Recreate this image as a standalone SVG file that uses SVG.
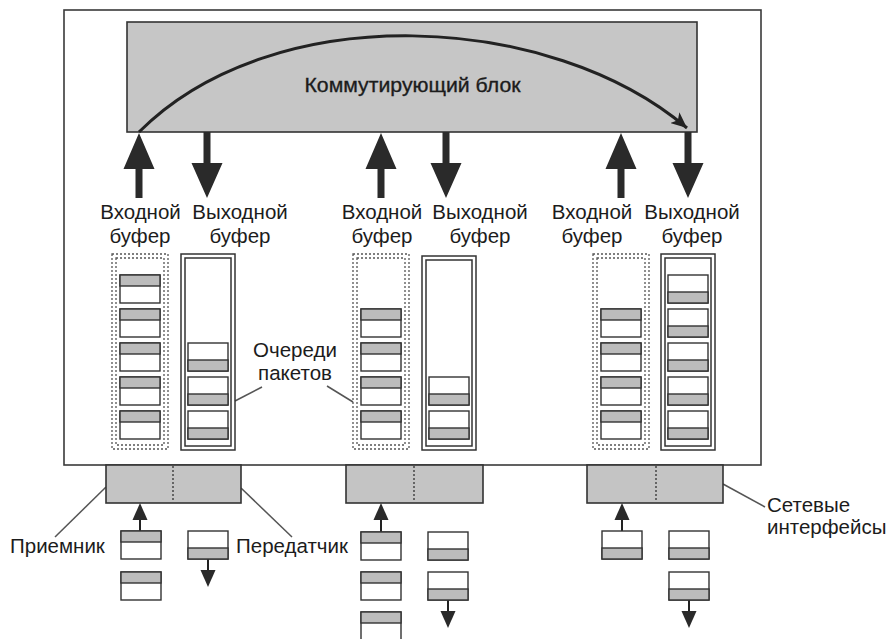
<svg xmlns="http://www.w3.org/2000/svg" xmlns:xlink="http://www.w3.org/1999/xlink" width="891" height="639" viewBox="0 0 891 639">
<style>
.frame{fill:#fff;stroke:#3a3a3a;stroke-width:1.6}
.block{fill:#c6c6c6;stroke:#333;stroke-width:1.6}
.iface{fill:#c4c4c4;stroke:#333;stroke-width:1.6}
.div{stroke:#333;stroke-width:1.3;stroke-dasharray:2 2}
.dot{fill:none;stroke:#555;stroke-width:1.3;stroke-dasharray:2 2}
.sol{fill:none;stroke:#333;stroke-width:1.5}
.pw{fill:#fff;stroke:#333;stroke-width:1.4}
.pg{fill:#bcbcbc;stroke:#333;stroke-width:1.4}
.arr{fill:#2a2a2a}
.lead{fill:none;stroke:#555;stroke-width:1.5}
.curve{fill:none;stroke:#222;stroke-width:3}
.sm{stroke:#222;stroke-width:2}
text{font-family:"Liberation Sans",Arial,sans-serif;font-size:20.5px;fill:#1c1c1c}
.c{text-anchor:middle}
.title{font-size:21px;stroke:#1c1c1c;stroke-width:0.35}
</style>
<defs>
<g id="pin"><rect class="pw" x="0" y="0" width="40" height="28"/><rect class="pg" x="0" y="0" width="40" height="11"/></g>
<g id="pout"><rect class="pw" x="0" y="0" width="40" height="28"/><rect class="pg" x="0" y="17" width="40" height="11"/></g>
<marker id="ah" markerUnits="userSpaceOnUse" markerWidth="18" markerHeight="14" refX="16" refY="7" orient="auto" viewBox="0 0 18 14"><path d="M0,0 L16,7 L0,14 L4,7 z" fill="#222"/></marker>
</defs>

<g id="router">
<rect class="frame" x="64" y="10" width="697" height="455"/>
</g>

<g id="switch">
<rect class="block" x="127" y="22" width="570" height="110"/>
<text class="c title" x="412.5" y="92" textLength="216" lengthAdjust="spacingAndGlyphs">Коммутирующий блок</text>
</g>

<g id="connectors">
<path class="curve" d="M139,132 C274,-3 551,12 687,128" marker-end="url(#ah)"/>
<path class="arr" d="M139,133 L154.5,169 L142.5,169 L142.5,198 L135.5,198 L135.5,169 L123.5,169 z"/>
<path class="arr" d="M381,133 L396.5,169 L384.5,169 L384.5,198 L377.5,198 L377.5,169 L365.5,169 z"/>
<path class="arr" d="M621,133 L636.5,169 L624.5,169 L624.5,198 L617.5,198 L617.5,169 L605.5,169 z"/>
<path class="arr" d="M203.5,132 L210.5,132 L210.5,163 L222.5,163 L207,198 L191.5,163 L203.5,163 z"/>
<path class="arr" d="M442.5,132 L449.5,132 L449.5,163 L461.5,163 L446,198 L430.5,163 L442.5,163 z"/>
<path class="arr" d="M684.5,132 L691.5,132 L691.5,163 L703.5,163 L688,198 L672.5,163 L684.5,163 z"/>
<path class="lead" d="M262,387 L235,401"/>
<path class="lead" d="M327,386 L353,402"/>
<path class="lead" d="M55,537 L106,487"/>
<path class="lead" d="M292,537 L241,488"/>
<path class="lead" d="M723,484 L765,507"/>
<line class="sm" x1="140" y1="531" x2="140" y2="518"/>
<path class="arr" d="M140,503 L147.5,520 L132.5,520 z"/>
<line class="sm" x1="381" y1="532" x2="381" y2="518"/>
<path class="arr" d="M381,503 L388.5,520 L373.5,520 z"/>
<line class="sm" x1="622" y1="531" x2="622" y2="518"/>
<path class="arr" d="M622,503 L629.5,520 L614.5,520 z"/>
<line class="sm" x1="208" y1="559" x2="208" y2="572"/>
<path class="arr" d="M208,587 L215.5,570 L200.5,570 z"/>
<line class="sm" x1="448" y1="600" x2="448" y2="613"/>
<path class="arr" d="M448,628 L455.5,611 L440.5,611 z"/>
<line class="sm" x1="689" y1="600" x2="689" y2="613"/>
<path class="arr" d="M689,628 L696.5,611 L681.5,611 z"/>
</g>

<g id="port1">
<text class="c" x="140.5" y="219">Входной</text>
<text class="c" x="140" y="243">буфер</text>
<text class="c" x="240" y="219">Выходной</text>
<text class="c" x="240" y="243">буфер</text>
<g id="inbuf1">
<rect class="dot" x="112" y="254" width="56" height="195"/>
<rect class="dot" x="116" y="258" width="48" height="187"/>
<use xlink:href="#pin" x="120" y="275"/>
<use xlink:href="#pin" x="120" y="309"/>
<use xlink:href="#pin" x="120" y="343"/>
<use xlink:href="#pin" x="120" y="377"/>
<use xlink:href="#pin" x="120" y="411"/>
</g>
<g id="outbuf1">
<rect class="sol" x="181" y="254" width="54" height="196"/>
<rect class="sol" x="185" y="258" width="46" height="188"/>
<use xlink:href="#pout" x="188" y="343"/>
<use xlink:href="#pout" x="188" y="377"/>
<use xlink:href="#pout" x="188" y="411"/>
</g>
</g>

<g id="port2">
<text class="c" x="382" y="219">Входной</text>
<text class="c" x="382" y="243">буфер</text>
<text class="c" x="480" y="219">Выходной</text>
<text class="c" x="480" y="243">буфер</text>
<g id="inbuf2">
<rect class="dot" x="353" y="254" width="56" height="195"/>
<rect class="dot" x="357" y="258" width="48" height="187"/>
<use xlink:href="#pin" x="361" y="309"/>
<use xlink:href="#pin" x="361" y="343"/>
<use xlink:href="#pin" x="361" y="377"/>
<use xlink:href="#pin" x="361" y="411"/>
</g>
<g id="outbuf2">
<rect class="sol" x="422" y="256" width="54" height="194"/>
<rect class="sol" x="426" y="260" width="46" height="186"/>
<use xlink:href="#pout" x="429" y="377"/>
<use xlink:href="#pout" x="429" y="411"/>
</g>
</g>

<g id="port3">
<text class="c" x="592" y="219">Входной</text>
<text class="c" x="592" y="243">буфер</text>
<text class="c" x="692" y="219">Выходной</text>
<text class="c" x="692" y="243">буфер</text>
<g id="inbuf3">
<rect class="dot" x="593" y="254" width="56" height="195"/>
<rect class="dot" x="597" y="258" width="48" height="187"/>
<use xlink:href="#pin" x="601" y="309"/>
<use xlink:href="#pin" x="601" y="343"/>
<use xlink:href="#pin" x="601" y="377"/>
<use xlink:href="#pin" x="601" y="411"/>
</g>
<g id="outbuf3">
<rect class="sol" x="661" y="254" width="54" height="196"/>
<rect class="sol" x="665" y="258" width="46" height="188"/>
<use xlink:href="#pout" x="668" y="275"/>
<use xlink:href="#pout" x="668" y="309"/>
<use xlink:href="#pout" x="668" y="343"/>
<use xlink:href="#pout" x="668" y="377"/>
<use xlink:href="#pout" x="668" y="411"/>
</g>
</g>

<g id="queues-label">
<text class="c" x="295" y="357">Очереди</text>
<text class="c" x="295" y="380">пакетов</text>
</g>

<g id="iface1">
<rect class="iface" x="106" y="465" width="135" height="38"/>
<line class="div" x1="173" y1="466" x2="173" y2="502"/>
<use xlink:href="#pin" x="121" y="531"/>
<use xlink:href="#pin" x="121" y="572"/>
<use xlink:href="#pout" x="188" y="531"/>
</g>
<g id="iface2">
<rect class="iface" x="346" y="465" width="137" height="38"/>
<line class="div" x1="414" y1="466" x2="414" y2="502"/>
<use xlink:href="#pin" x="361" y="532"/>
<use xlink:href="#pin" x="361" y="572"/>
<use xlink:href="#pin" x="361" y="612"/>
<use xlink:href="#pout" x="428" y="532"/>
<use xlink:href="#pout" x="428" y="572"/>
</g>
<g id="iface3">
<rect class="iface" x="587" y="465" width="136" height="38"/>
<line class="div" x1="656" y1="466" x2="656" y2="502"/>
<use xlink:href="#pout" x="602" y="531"/>
<use xlink:href="#pout" x="669" y="531"/>
<use xlink:href="#pout" x="669" y="572"/>
</g>

<g id="labels">
<text x="10" y="553">Приемник</text>
<text x="236" y="553">Передатчик</text>
<text x="767" y="512">Сетевые</text>
<text x="767" y="534">интерфейсы</text>
</g>
</svg>
